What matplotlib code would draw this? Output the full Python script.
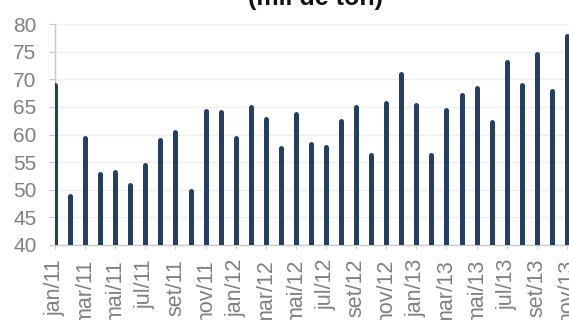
import matplotlib
matplotlib.use("Agg")
import matplotlib.pyplot as plt

plt.rcParams["font.family"] = ["Liberation Sans", "DejaVu Sans"]

# monthly series, jan/11 .. nov/13 (mil de ton)
months = ["jan", "fev", "mar", "abr", "mai", "jun", "jul", "ago", "set", "out", "nov", "dez"]
years = ["11", "12", "13"]
periods = [f"{m}/{y}" for y in years for m in months][:35]
values = [
    69.0, 48.8, 59.4, 52.8, 53.2, 50.9, 54.5, 59.0, 60.5, 49.8, 64.2, 64.1,
    59.3, 64.9, 62.8, 57.6, 63.7, 58.2, 57.8, 62.4, 64.9, 56.3, 65.7, 71.0,
    65.4, 56.3, 64.5, 67.1, 68.5, 62.3, 73.1, 69.0, 74.5, 67.8, 77.8,
]
y_ticks = [40, 45, 50, 55, 60, 65, 70, 75, 80]

W, H, DPI = 569, 320, 100
fig = plt.figure(figsize=(W / DPI, H / DPI), dpi=DPI)
# plot area runs past the right edge of the canvas
ax = fig.add_axes([55 / W, 75 / H, 527 / W, 221 / H])

bar_color = "#253f60"
grey = "#808080"
x = list(range(len(values)))
ax.vlines(x, 40, values, colors=bar_color, linewidth=3.6, capstyle="round", zorder=3)

ax.set_xlim(0, 35)
ax.set_ylim(40, 80)
ax.set_yticks(y_ticks)
ax.yaxis.grid(True, color="#eeeeee", linewidth=1.0, zorder=0)
ax.set_axisbelow(True)

ax.set_xticks(x[::2])
ax.set_xticklabels(periods[::2], rotation=90, va="top", ha="center")

for side in ("top", "right"):
    ax.spines[side].set_visible(False)
for side in ("left", "bottom"):
    ax.spines[side].set_color("#c8c8c8")
    ax.spines[side].set_linewidth(1.0)

ax.tick_params(axis="y", length=4.3, width=0.8, color="#c8c8c8", pad=9,
               labelsize=15, labelcolor=grey)
ax.tick_params(axis="x", length=3, width=0.8, color="#c8c8c8", pad=7,
               labelsize=15.5, labelcolor=grey)

fig.text(315 / W, 1 - 5 / H, "(mil de ton)", ha="center", va="baseline",
         fontsize=18, fontweight="bold", color="#111111")

fig.savefig("out.png", dpi=DPI)
